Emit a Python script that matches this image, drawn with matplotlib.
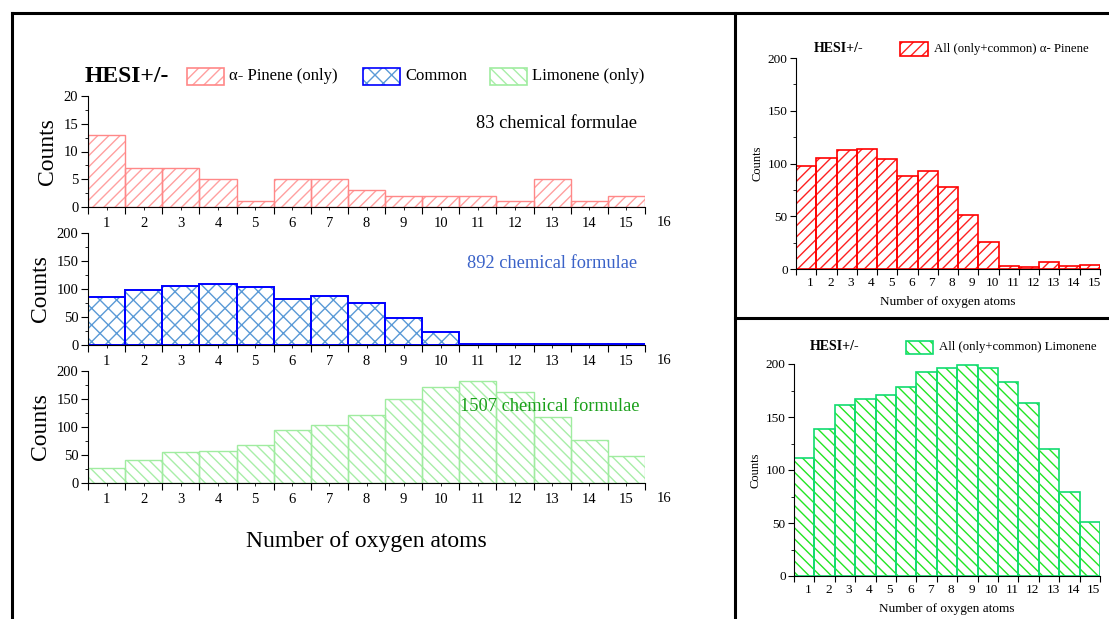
import matplotlib
matplotlib.use('Agg')
import matplotlib.pyplot as plt
from matplotlib.patches import Rectangle
from matplotlib.lines import Line2D
import numpy as np

plt.rcParams['font.family'] = ['Liberation Serif', 'DejaVu Serif']
plt.rcParams['hatch.linewidth'] = 1.0

# data
n_oxygen = np.arange(1, 16)
pinene_only = [13, 7, 7, 5, 1, 5, 5, 3, 2, 2, 2, 1, 5, 1, 2]
common = [85, 98, 106, 109, 103, 83, 88, 75, 49, 24, 1, 1, 2, 2, 2]
limonene_only = [26, 41, 55, 58, 68, 95, 104, 121, 150, 171, 182, 162, 118, 77, 49]
pinene_all = [98, 105, 113, 114, 104, 88, 93, 78, 51, 26, 3, 2, 7, 3, 4]
limonene_all = [111, 139, 161, 167, 171, 178, 192, 196, 199, 196, 183, 163, 120, 79, 51]

fig = plt.figure(figsize=(11.09, 6.19), dpi=100)
W, H = 1109.0, 619.0

def px_axes(x0, y0, x1, y1):
    # pixel box -> figure axes
    return fig.add_axes([x0 / W, 1 - y1 / H, (x1 - x0) / W, (y1 - y0) / H])

def hatched_bars(ax, vals, hatch, hcol, ecol, lw):
    ax.bar(n_oxygen, vals, width=1.0, color='white', edgecolor=hcol,
           hatch=hatch, linewidth=0)
    ax.bar(n_oxygen, vals, width=1.0, color='none', edgecolor=ecol,
           linewidth=lw)

def legend_item(x0, x1, yc, h, hatch, hcol, ecol, label, fs, gap=5):
    # hatched swatch + label placed in pixel coordinates
    r = Rectangle((x0 / W, 1 - (yc + h / 2) / H), (x1 - x0) / W, h / H,
                  transform=fig.transFigure, facecolor='white', edgecolor=hcol,
                  hatch=hatch, linewidth=0)
    fig.add_artist(r)
    r2 = Rectangle((x0 / W, 1 - (yc + h / 2) / H), (x1 - x0) / W, h / H,
                   transform=fig.transFigure, facecolor='none', edgecolor=ecol,
                   linewidth=1.2)
    fig.add_artist(r2)
    fig.text((x1 + gap) / W, 1 - yc / H, label, fontsize=fs, ha='left', va='center')

def style_left(ax, ymax, ystep):
    ax.set_xlim(0.5, 15.5)
    ax.set_ylim(0, ymax)
    ax.spines['top'].set_visible(False)
    ax.spines['right'].set_visible(False)
    ax.set_xticks(np.arange(0.5, 16, 1))
    ax.set_xticklabels([])
    ax.set_xticks(n_oxygen, minor=True)
    ax.set_xticklabels([str(i) for i in n_oxygen], minor=True, fontsize=10.5)
    ax.tick_params(axis='x', which='major', length=5, direction='out')
    ax.tick_params(axis='x', which='minor', length=2, direction='out', pad=5)
    ax.text(16, -0.14 * ymax, '16', ha='center', va='center', fontsize=10.5,
            clip_on=False)
    ax.set_yticks(np.arange(0, ymax + 1, ystep))
    ax.set_yticks(np.arange(ystep / 2, ymax, ystep), minor=True)
    ax.tick_params(axis='y', which='major', length=5, labelsize=10.5, pad=2)
    ax.tick_params(axis='y', which='minor', length=2)
    ax.set_ylabel('Counts', fontsize=17, labelpad=4)

# left panels
ax1 = px_axes(88, 96, 645, 207)
hatched_bars(ax1, pinene_only, '///', '#ffa0a0', '#ff8888', 1.0)
style_left(ax1, 20, 5)
ax1.text(0.985, 0.75, '83 chemical formulae', transform=ax1.transAxes,
         ha='right', va='center', fontsize=13.2, color='black')

ax2 = px_axes(88, 233, 645, 345)
hatched_bars(ax2, common, 'xx', '#5a9ad6', '#0000ff', 1.4)
style_left(ax2, 200, 50)
ax2.text(0.985, 0.73, '892 chemical formulae', transform=ax2.transAxes,
         ha='right', va='center', fontsize=13.2, color='#3a62c8')

ax3 = px_axes(88, 371, 645, 483)
hatched_bars(ax3, limonene_only, '\\\\\\', '#a8eea8', '#a0eca0', 1.0)
style_left(ax3, 200, 50)
ax3.text(0.99, 0.68, '1507 chemical formulae', transform=ax3.transAxes,
         ha='right', va='center', fontsize=13.2, color='#1aa01a')
ax3.set_xlabel('Number of oxygen atoms', fontsize=17, labelpad=18)

# left legend row
fig.text(85 / W, 1 - 76 / H, 'HESI+/-', fontsize=17, fontweight='bold',
         ha='left', va='center')
legend_item(187, 224, 76, 17, '///', '#ffa0a0', '#ff8888', 'α- Pinene (only)', 12)
legend_item(363, 400, 76, 17, 'xx', '#5a9ad6', '#0000ff', 'Common', 12)
legend_item(490, 527, 76, 17, '\\\\\\', '#a8eea8', '#a0eca0', 'Limonene (only)', 12)

def style_right(ax):
    ax.set_xlim(0.5, 15.5)
    ax.set_ylim(0, 200)
    ax.spines['top'].set_visible(False)
    ax.spines['right'].set_visible(False)
    ax.set_xticks(np.arange(0.5, 16, 1))
    ax.set_xticklabels([])
    ax.set_xticks(n_oxygen + 0.2, minor=True)
    ax.set_xticklabels([str(i) for i in n_oxygen], minor=True, fontsize=9.5)
    ax.tick_params(axis='x', which='major', length=4, direction='out')
    ax.tick_params(axis='x', which='minor', length=0, pad=6)
    ax.set_yticks(np.arange(0, 201, 50))
    ax.set_yticks(np.arange(25, 200, 50), minor=True)
    ax.tick_params(axis='y', which='major', length=4, labelsize=9.5, pad=2)
    ax.tick_params(axis='y', which='minor', length=2)
    ax.set_ylabel('Counts', fontsize=9, labelpad=3)
    ax.set_xlabel('Number of oxygen atoms', fontsize=9.5, labelpad=5)

# right top
ax4 = px_axes(796, 58, 1100, 269)
hatched_bars(ax4, pinene_all, '///', '#ff2020', '#ff0000', 1.2)
style_right(ax4)
fig.text(814 / W, 1 - 49 / H, 'HESI+/-', fontsize=10, fontweight='bold',
         ha='left', va='center')
legend_item(900, 928, 49, 13, '///', '#ff2020', '#ff0000',
            'All (only+common) α- Pinene', 9.2, gap=6)

# right bottom
ax5 = px_axes(794, 364, 1100, 576)
hatched_bars(ax5, limonene_all, '\\\\\\', '#22e622', '#10dc70', 1.2)
style_right(ax5)
fig.text(810 / W, 1 - 347 / H, 'HESI+/-', fontsize=10, fontweight='bold',
         ha='left', va='center')
legend_item(906, 933, 347, 13, '\\\\\\', '#22e622', '#10dc70',
            'All (only+common) Limonene', 9.2, gap=6)

# panel frames
def frame(x0, y0, x1, y1):
    fig.add_artist(Line2D([x0 / W, x1 / W], [1 - y0 / H, 1 - y1 / H],
                          color='black', linewidth=2.2))

frame(12, 13, 1109, 13)
frame(12, 13, 12, 619)
frame(735, 13, 735, 619)
frame(735, 318, 1109, 318)

fig.savefig('out.png', dpi=100)
